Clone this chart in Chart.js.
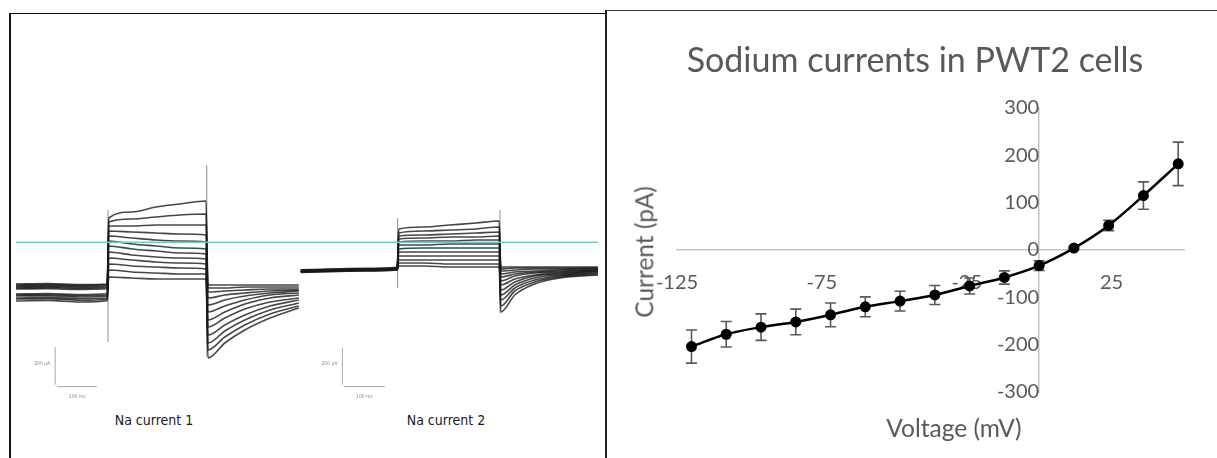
<!DOCTYPE html>
<html>
<head>
<meta charset="utf-8">
<title>Sodium currents in PWT2 cells</title>
<script src="https://cdn.jsdelivr.net/npm/chart.js@4.4.0/dist/chart.umd.min.js"></script>
<style>
  html, body { margin: 0; padding: 0; background: #fff; }
  body { width: 1217px; height: 458px; position: relative; overflow: hidden; font-family: Lato, "Open Sans", sans-serif; }
  .rule { position: absolute; background: #111; }
  #tracesBox { position: absolute; left: 16px; top: 142px; width: 582px; height: 260px; }
  #ivBox { position: absolute; left: 608px; top: 12px; width: 609px; height: 446px; }
  .caption { position: absolute; transform: translate(-50%, -50%); white-space: nowrap; color: #1a1a1a;
             font-family: "Liberation Sans Narrow", "DejaVu Sans Condensed", "Open Sans", sans-serif; font-size: 14px; }
  .axisTitle { position: absolute; white-space: nowrap; color: #595959; font-family: Lato, "Open Sans", sans-serif; font-size: 24.5px; line-height: 1.2; }
  .chartTitle { position: absolute; white-space: nowrap; color: #595959; font-family: Lato, "Open Sans", sans-serif; font-size: 34px; line-height: 1.2;
                transform: translate(-50%, -50%); }
</style>
</head>
<body>
  <!-- panel frames -->
  <div class="rule" style="left:9px; top:12.7px; width:597px; height:1.6px;"></div>
  <div class="rule" style="left:8.7px; top:12.7px; width:2.6px; height:446px;"></div>
  <div class="rule" style="left:604.6px; top:10.4px; width:2.4px; height:448px; background:#222;"></div>
  <div class="rule" style="left:606px; top:10.3px; width:611px; height:1.2px; background:#333;"></div>

  <div id="tracesBox"><canvas id="traces" width="582" height="260"></canvas></div>
  <div class="caption" style="left:154px; top:420px;">Na current 1</div>
  <div class="caption" style="left:446px; top:420px;">Na current 2</div>

  <div id="ivBox"><canvas id="iv" width="609" height="446"></canvas></div>
  <div class="chartTitle" style="left:915px; top:58.5px;">Sodium currents in PWT2 cells</div>
  <div class="axisTitle" style="left:954px; top:428px; transform:translate(-50%,-50%);">Voltage (mV)</div>
  <div class="axisTitle" style="left:644px; top:252px; transform:translate(-50%,-50%) rotate(-90deg);">Current (pA)</div>

<script>
// ---------- Current–voltage relation (mean ± error) ----------
const voltages   = [-120, -108, -96, -84, -72, -60, -48, -36, -24, -12, 0, 12, 24, 36, 48];   // mV
const currents   = [-204, -178, -163, -152, -137, -120, -108, -95, -76, -58, -33, 4, 52, 115, 182]; // pA
const currentErr = [35, 27, 28, 27, 25, 21, 21, 20, 17, 14, 10, 3, 11, 29, 46];             // pA
const voltageTicks = [-125, -75, -25, 25];
const currentTicks = [-300, -200, -100, 0, 100, 200, 300];

// ---------- Raw sweeps, cell 1 (time in ms, current in pA) ----------
const cell1BaseT = [0, 80, 160, 228];
const cell1Base = [
  [-209, -207, -212, -209], [-214, -212, -216, -213], [-219, -217, -220, -218],
  [-224, -222, -226, -223], [-229, -227, -231, -228], [-234, -233, -236, -233],
  [-259, -257, -262, -258], [-264, -263, -268, -264], [-269, -268, -274, -270],
  [-279, -276, -283, -279], [-284, -282, -290, -285], [-294, -291, -299, -293]
];
const cell1StepT = [232, 290, 350, 410, 475];
const cell1Step = [
  [121, 151, 176, 191, 206], [101, 116, 126, 136, 141], [81, 81, 86, 86, 86],
  [56, 51, 46, 41, 36], [31, 21, 11, 6, 1], [6, -9, -19, -29, -34],
  [-19, -34, -44, -54, -59], [-49, -64, -74, -79, -84], [-79, -89, -99, -104, -109],
  [-109, -119, -124, -129, -134], [-139, -149, -154, -159, -159], [-174, -179, -184, -184, -184]
];
const cell1TailT = [480, 522, 572, 635, 707];
const cell1Tail = [
  [-214, -214, -214, -214, -214], [-229, -229, -224, -224, -224], [-249, -244, -239, -234, -234],
  [-279, -264, -254, -244, -239], [-314, -289, -269, -254, -244], [-349, -319, -289, -264, -254],
  [-389, -349, -309, -279, -264], [-424, -379, -334, -299, -279], [-464, -414, -364, -319, -289],
  [-504, -444, -389, -339, -304], [-539, -474, -414, -359, -319], [-579, -504, -439, -379, -329]
];

// ---------- Raw sweeps, cell 2 ----------
const cell2BaseT = [712, 790, 870, 953];
const cell2Base = [
  [-138, -134, -131, -126], [-140, -136, -133, -128], [-141, -137, -134, -129],
  [-142, -138, -135, -130], [-143, -139, -136, -131], [-144, -140, -137, -132],
  [-145, -141, -138, -133], [-146, -142, -139, -134], [-147, -143, -140, -135],
  [-148, -144, -141, -136], [-149, -145, -142, -137], [-151, -147, -144, -139]
];
const cell2StepT = [957, 1020, 1085, 1150, 1208];
const cell2Step = [
  [66, 76, 86, 96, 106], [46, 56, 61, 66, 76], [31, 36, 41, 46, 51],
  [16, 21, 26, 26, 31], [1, 6, 6, 11, 11], [-14, -14, -9, -9, -9],
  [-34, -29, -29, -29, -29], [-49, -49, -49, -49, -49], [-69, -69, -69, -69, -69],
  [-89, -89, -89, -89, -89], [-104, -104, -109, -109, -109], [-119, -119, -124, -124, -124]
];
const cell2TailT = [1212, 1247, 1297, 1360, 1455];
const cell2Tail = [
  [-124, -124, -124, -124, -124], [-134, -129, -129, -129, -129], [-144, -139, -134, -134, -129],
  [-159, -149, -144, -139, -134], [-174, -159, -149, -144, -139], [-194, -169, -154, -149, -139],
  [-214, -184, -164, -154, -144], [-239, -199, -169, -159, -144], [-264, -214, -179, -164, -149],
  [-289, -229, -189, -169, -154], [-319, -244, -199, -174, -159], [-349, -264, -209, -179, -164]
];

// Capacitive transients at step on/offset: [time, top, bottom]
const transients = [[230, 161, -499], [477, 386, -574], [954, 121, -229], [1210, 161, -354]];
// Scale bars: 200 pA / 100 ms, one pair per cell
const scaleBarVertical   = [[98, -524, -712], [816, -527, -712]];
const scaleBarHorizontal = [[104, 202, -722], [820, 922, -722]];

// ---------- build trace datasets ----------
function sweepPoints(baseT, base, stepT, step, tailT, tail, i) {
  const pts = [];
  baseT.forEach((t, k) => pts.push({ x: t, y: base[i][k] }));
  stepT.forEach((t, k) => pts.push({ x: t, y: step[i][k] }));
  tailT.forEach((t, k) => pts.push({ x: t, y: tail[i][k] }));
  return pts;
}

const sweepColor = 'rgba(25,25,25,0.8)';
const traceSets = [];
traceSets.push({ data: [{ x: 0, y: 0 }, { x: 1455, y: 0 }], borderColor: '#6fcfc8', borderWidth: 1.4, order: 0 });
for (let i = 0; i < cell1Step.length; i++) {
  traceSets.push({ data: sweepPoints(cell1BaseT, cell1Base, cell1StepT, cell1Step, cell1TailT, cell1Tail, i),
                   borderColor: sweepColor, borderWidth: 1.6, order: 2 });
}
for (let i = 0; i < cell2Step.length; i++) {
  traceSets.push({ data: sweepPoints(cell2BaseT, cell2Base, cell2StepT, cell2Step, cell2TailT, cell2Tail, i),
                   borderColor: sweepColor, borderWidth: 1.6, order: 2 });
}
transients.forEach(([t, hi, lo]) => traceSets.push({
  data: [{ x: t, y: hi }, { x: t, y: lo }], borderColor: '#8a8a8a', borderWidth: 1, order: 3 }));
scaleBarVertical.forEach(([t, hi, lo]) => traceSets.push({
  data: [{ x: t, y: hi }, { x: t, y: lo }], borderColor: '#a5a5a5', borderWidth: 1, order: 1 }));
scaleBarHorizontal.forEach(([t0, t1, v]) => traceSets.push({
  data: [{ x: t0, y: v }, { x: t1, y: v }], borderColor: '#a5a5a5', borderWidth: 1, order: 1 }));

// small scale-bar captions, placed from the bar ends through the scales
const scaleCaptions = {
  id: 'scaleCaptions',
  afterDatasetsDraw(chart) {
    const { ctx, scales: { x, y } } = chart;
    ctx.save();
    ctx.fillStyle = '#888';
    ctx.font = '5px "DejaVu Sans Condensed", sans-serif';
    ctx.textBaseline = 'middle';
    scaleBarVertical.forEach(([t, hi, lo]) => {
      ctx.textAlign = 'right';
      ctx.fillText('200 pA', x.getPixelForValue(t) - 5, y.getPixelForValue((hi + lo) / 2) - 2);
    });
    scaleBarHorizontal.forEach(([t0, t1, v]) => {
      ctx.textAlign = 'center';
      ctx.fillText('100 ms', x.getPixelForValue((t0 + t1) / 2), y.getPixelForValue(v) + 10);
    });
    ctx.restore();
  }
};

new Chart(document.getElementById('traces'), {
  type: 'line',
  data: { datasets: traceSets },
  options: {
    responsive: false,
    animation: false,
    layout: { padding: 0 },
    elements: { point: { radius: 0 }, line: { cubicInterpolationMode: 'monotone', borderCapStyle: 'butt' } },
    plugins: { legend: { display: false }, tooltip: { enabled: false } },
    scales: {
      x: { type: 'linear', min: 0, max: 1455, display: false },
      y: { type: 'linear', min: -799, max: 501, display: false }
    }
  },
  plugins: [scaleCaptions]
});

// ---------- I–V plot ----------
const errorBars = {
  id: 'errorBars',
  beforeDatasetsDraw(chart) {
    const { ctx, scales: { x, y } } = chart;
    ctx.save();
    ctx.strokeStyle = '#595959';
    ctx.lineWidth = 1.6;
    voltages.forEach((v, i) => {
      const px = x.getPixelForValue(v);
      const top = y.getPixelForValue(currents[i] + currentErr[i]);
      const bot = y.getPixelForValue(currents[i] - currentErr[i]);
      ctx.beginPath();
      ctx.moveTo(px, top); ctx.lineTo(px, bot);
      ctx.moveTo(px - 5.5, top); ctx.lineTo(px + 5.5, top);
      ctx.moveTo(px - 5.5, bot); ctx.lineTo(px + 5.5, bot);
      ctx.stroke();
    });
    ctx.restore();
  }
};

const tickFont = { family: 'Lato, "Open Sans", sans-serif', size: 20 };
new Chart(document.getElementById('iv'), {
  type: 'line',
  data: {
    datasets: [{
      data: voltages.map((v, i) => ({ x: v, y: currents[i] })),
      borderColor: '#000',
      borderWidth: 2.5,
      tension: 0.35,
      pointRadius: 5.5,
      pointBackgroundColor: '#000',
      pointBorderColor: '#000',
      pointBorderWidth: 0
    }]
  },
  options: {
    responsive: false,
    animation: false,
    layout: { padding: { left: 69, right: 33, top: 96, bottom: 66 } },
    plugins: {
      legend: { display: false },
      tooltip: { enabled: false },
      title: { display: false }
    },
    scales: {
      x: {
        type: 'linear', min: -125, max: 50, position: { y: 0 },
        grid: { display: false, drawTicks: false },
        border: { display: true, color: '#c4c4c4', width: 1.5 },
        ticks: { color: '#595959', font: tickFont, padding: 21, autoSkip: false, maxRotation: 0 },
        afterBuildTicks: s => { s.ticks = voltageTicks.map(v => ({ value: v })); }
      },
      y: {
        type: 'linear', min: -300, max: 300, position: { x: 0 },
        grid: { display: false, drawTicks: false },
        border: { display: true, color: '#c4c4c4', width: 1.5 },
        ticks: { color: '#595959', font: tickFont, padding: 24, autoSkip: false },
        afterBuildTicks: s => { s.ticks = currentTicks.map(v => ({ value: v })); }
      }
    }
  },
  plugins: [errorBars]
});
</script>
</body>
</html>
